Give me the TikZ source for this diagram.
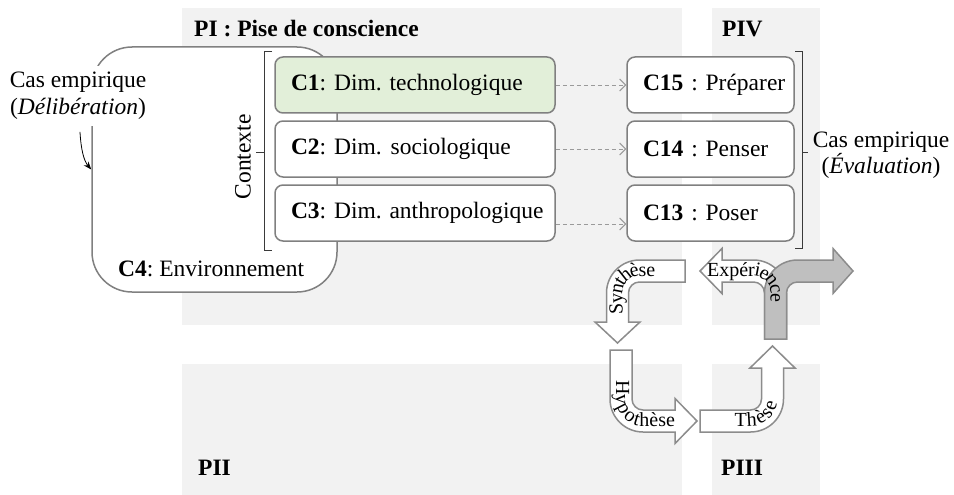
\documentclass[tikz,border=0pt]{standalone}
\usepackage{fontspec}
\setmainfont{Liberation Serif}
\usetikzlibrary{arrows.meta,decorations.text}
\definecolor{panel}{HTML}{F2F2F2}
\definecolor{edge}{HTML}{808080}
\definecolor{greenfill}{HTML}{E2EFD9}
\definecolor{arrowfill}{HTML}{BFBFBF}
\definecolor{arrowedge}{HTML}{8C8C8C}
\definecolor{dashcol}{HTML}{9A9A9A}
\definecolor{bracketcol}{HTML}{3A3A3A}
\begin{document}
\frenchspacing
\begin{tikzpicture}[x=1pt,y=-1pt,
  font=\fontsize{23.5}{27}\selectfont,
  panelbox/.style={fill=panel, draw=none},
  titlelabel/.style={anchor=base west, inner sep=0pt, font=\fontsize{23.5}{27}\selectfont\bfseries},
  dimbox/.style={draw=edge, line width=1.5pt, rounded corners=8pt, fill=white,
    minimum height=56pt, inner xsep=16pt, inner ysep=0pt, text width=248pt, align=left},
  actbox/.style={dimbox, text width=135pt},
  envbox/.style={draw=edge, line width=1.5pt, rounded corners=40pt, fill=white,
    minimum width=245pt, minimum height=245pt},
  bracketline/.style={draw=bracketcol, line width=1pt},
  dasharrow/.style={draw=dashcol, line width=0.9pt, dash pattern=on 4pt off 3pt,
    -{Straight Barb[length=6pt,width=12pt,line width=0.9pt]}},
  blockarrow/.style={draw=arrowedge, line width=1.5pt, fill=white, line join=miter},
  grayarrow/.style={blockarrow, fill=arrowfill},
  pathlabel/.style={decorate, decoration={text along path, text align=center, raise=-5pt,
    text={|\fontsize{20}{20}\selectfont|#1}}}
]
\useasboundingbox (0,0) rectangle (954,495);

% background panels
\fill[panelbox] (182,8) rectangle (682,325);
\fill[panelbox] (712,8) rectangle (820,325);
\fill[panelbox] (182,364) rectangle (682,495);
\fill[panelbox] (712,364) rectangle (820,495);

\node[titlelabel] (tPI) at (194,37) {PI : Pise de conscience};
\node[titlelabel] (tPIV) at (722,37) {PIV};
\node[titlelabel] (tPII) at (198,475) {PII};
\node[titlelabel] (tPIII) at (721,475) {PIII};

% environment frame
\node[envbox] (C4box) at (214.5,169.5) {};
\node[anchor=base west, inner sep=0pt] (C4lab) at (118,276) {\textbf{C4}: Environnement};

\node[fill=white, align=center, inner xsep=2pt, inner ysep=6pt] (casL) at (78,96)
  {Cas empirique\\(\textit{Délibération})};
\draw[black, line width=0.8pt, -{Stealth[length=8pt,width=6pt]}]
  ([xshift=2pt,yshift=-6pt]casL.south) .. controls (81,150) and (84,161) .. (C4box.west);

% context bracket
\draw[bracketline] (272,52) -- (264,52) -- (264,250) -- (272,250);
\draw[bracketline] (264,152) -- (256,152);
\node[rotate=90] (ctx) at (243,157) {Contexte};

% dimensions
\node[dimbox, fill=greenfill] (C1) at (415,85) {\mbox{\textbf{C1}: Dim. technologique}};
\node[dimbox] (C2) at (415,149) {\mbox{\textbf{C2}: Dim.\hspace{9pt}sociologique}};
\node[dimbox] (C3) at (415,213) {\mbox{\textbf{C3}: Dim. anthropologique}};

% actions
\node[actbox] (C15) at (710.5,85) {\mbox{\textbf{C15} : Préparer}};
\node[actbox] (C14) at (710.5,149) {\mbox{\textbf{C14} : Penser}};
\node[actbox] (C13) at (710.5,213) {\mbox{\textbf{C13} : Poser}};

\draw[dasharrow] (C1.east) -- (C15.west);
\draw[dasharrow] (C2.east) -- (C14.west);
\draw[dasharrow] ([yshift=-11pt]C3.east) -- ([yshift=-11pt]C13.west);

% evaluation bracket
\draw[bracketline] (795,52) -- (802,52) -- (802,248) -- (795,248);
\draw[bracketline] (802,152) -- (808,152);
\node[align=center, font=\fontsize{23.5}{24.5}\selectfont] (casR) at (881,155) {Cas empirique\\(\textit{Évaluation})};

% cycle of bent arrows
\filldraw[blockarrow] (685,260) -- (639.5,260) .. controls (621.3,260) and (606.5,274.8) .. (606.5,293)
  -- (606.5,322) -- (595,322) -- (617.5,343) -- (640,322) -- (628.5,322) -- (628.5,293)
  .. controls (628.5,286.9) and (633.4,282) .. (639.5,282) -- (685,282) -- cycle;
\path[pathlabel={Synthèse}] (617.5,337) -- (617.5,293) .. controls (617.5,280.85) and (627.35,271) .. (639.5,271) -- (677.5,271);

\filldraw[blockarrow] (610,350) -- (610,399) .. controls (610,417.2) and (624.8,432) .. (643,432)
  -- (675,432) -- (675,443.5) -- (697,421) -- (675,398.5) -- (675,410) -- (643,410)
  .. controls (636.9,410) and (632,405.1) .. (632,399) -- (632,350) -- cycle;
\path[pathlabel={Hypothèse}] (621,370) -- (621,399) .. controls (621,411.15) and (630.85,421) .. (643,421) -- (685,421);

\filldraw[blockarrow] (700,410) -- (750.5,410) .. controls (756.6,410) and (761.5,405.1) .. (761.5,399)
  -- (761.5,368) -- (750,368) -- (772.5,346) -- (795,368) -- (783.5,368) -- (783.5,399)
  .. controls (783.5,417.2) and (768.7,432) .. (750.5,432) -- (700,432) -- cycle;
\path[pathlabel={Thèse}] (726,421) -- (750.5,421) .. controls (762.65,421) and (772.5,411.15) .. (772.5,399) -- (772.5,393);

\filldraw[blockarrow] (786.5,339) -- (786.5,293) .. controls (786.5,274.8) and (771.7,260) .. (753.5,260)
  -- (722,260) -- (722,248.5) -- (700,271) -- (722,293.5) -- (722,282) -- (753.5,282)
  .. controls (759.6,282) and (764.5,286.9) .. (764.5,293) -- (764.5,339) -- cycle;

\filldraw[grayarrow] (764.5,339) -- (764.5,293) .. controls (764.5,274.8) and (779.3,260) .. (797.5,260)
  -- (833,260) -- (833,248.5) -- (853,271) -- (833,293.5) -- (833,282) -- (797.5,282)
  .. controls (791.4,282) and (786.5,286.9) .. (786.5,293) -- (786.5,339) -- cycle;
\path[pathlabel={Expérience}] (698,271) -- (753.5,271) .. controls (765.65,271) and (775.5,280.85) .. (775.5,293) -- (775.5,311);
\end{tikzpicture}
\end{document}
